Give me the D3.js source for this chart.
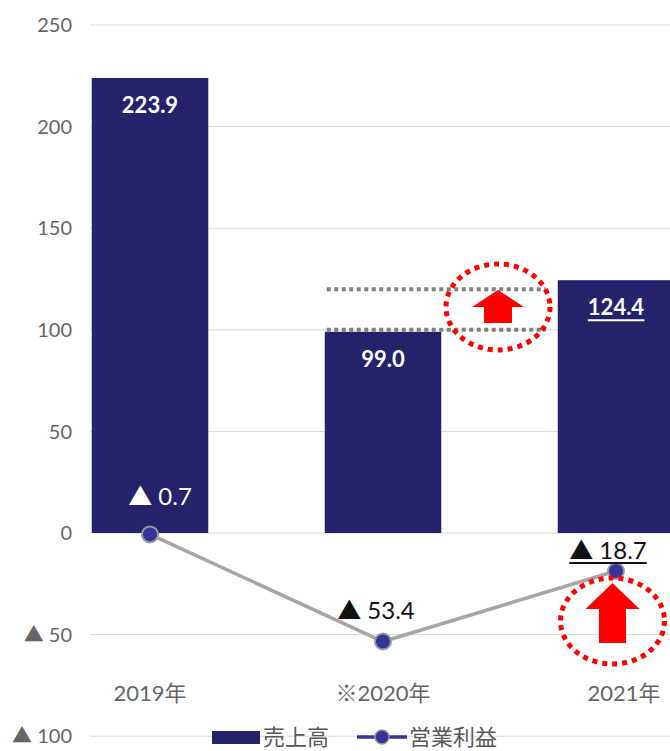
<!DOCTYPE html>
<html>
<head>
<meta charset="utf-8">
<script src="https://cdn.jsdelivr.net/npm/d3@7"></script>
<style>
  body { margin: 0; background: #fff; }
  svg { font-family: Lato, "Noto Sans CJK JP", sans-serif; }
</style>
</head>
<body>
<div id="chart"></div>
<script>
// Chart data
const years = ["2019年", "※2020年", "2021年"];
const sales = [223.9, 99.0, 124.4];
const profit = [-0.7, -53.4, -18.7];
const profitLabels = ["▲ 0.7", "▲ 53.4", "▲ 18.7"];
const yTicks = [250, 200, 150, 100, 50, 0, -50, -100];
const legendNames = ["売上高", "営業利益"];

const width = 670, height = 751;
const barColor = "#23226b";

const svg = d3.select("#chart")
    .append("svg")
    .attr("width", width)
    .attr("height", height);

const x = d3.scaleBand()
    .domain(years)
    .range([33.5, 732.5])
    .paddingInner(0.5)
    .paddingOuter(0.25);

const y = d3.scaleLinear()
    .domain([-100, 250])
    .range([736.2, 25]);

const tickLabel = d => d < 0 ? "▲ " + Math.abs(d) : d;

// Gridlines
svg.append("g")
    .selectAll("line")
    .data(yTicks)
    .enter().append("line")
    .attr("x1", 90)
    .attr("x2", width)
    .attr("y1", d => y(d))
    .attr("y2", d => y(d))
    .attr("stroke", "#d9d9d9")
    .attr("stroke-width", 1);

// Y tick labels
svg.append("g")
    .selectAll("text")
    .data(yTicks)
    .enter().append("text")
    .attr("x", 72)
    .attr("y", d => y(d))
    .attr("dy", "0.36em")
    .attr("text-anchor", "end")
    .style("font-size", "20px")
    .style("fill", "#666")
    .text(tickLabel);

// Bars
svg.append("g")
    .selectAll("rect")
    .data(sales)
    .enter().append("rect")
    .attr("x", (d, i) => x(years[i]))
    .attr("y", d => y(d))
    .attr("width", x.bandwidth())
    .attr("height", d => y(0) - y(d))
    .attr("fill", barColor);

// Bar value labels
const barLabels = svg.append("g")
    .selectAll("text")
    .data(sales)
    .enter().append("text")
    .attr("x", (d, i) => x(years[i]) + x.bandwidth() / 2)
    .attr("y", d => y(d) + 35)
    .attr("text-anchor", "middle")
    .style("font-size", "22px")
    .style("font-weight", "bold")
    .style("fill", "#fff")
    .text(d => d.toFixed(1));

// underline the 2021 value
barLabels.filter((d, i) => i === 2).each(function() {
    const b = this.getBBox();
    svg.append("line")
        .attr("x1", b.x).attr("x2", b.x + b.width)
        .attr("y1", b.y + b.height).attr("y2", b.y + b.height)
        .attr("stroke", "#fff").attr("stroke-width", 2);
});

// Profit line
const cx = (d, i) => x(years[i]) + x.bandwidth() / 2;
const line = d3.line()
    .x(cx)
    .y(d => y(d));

svg.append("path")
    .datum(profit)
    .attr("d", line)
    .attr("fill", "none")
    .attr("stroke", "#a6a6a6")
    .attr("stroke-width", 3.5);

svg.append("g")
    .selectAll("circle")
    .data(profit)
    .enter().append("circle")
    .attr("cx", cx)
    .attr("cy", d => y(d))
    .attr("r", 8)
    .attr("fill", "#333399")
    .attr("stroke", "#999")
    .attr("stroke-width", 2);

// Profit labels
const labelPos = [
    { dx: 10, dy: -29, color: "#fff" },
    { dx: -7, dy: -23, color: "#111" },
    { dx: -8, dy: -12, color: "#111" }
];
const profitText = svg.append("g")
    .selectAll("text")
    .data(profit)
    .enter().append("text")
    .attr("x", (d, i) => cx(d, i) + labelPos[i].dx)
    .attr("y", d => y(d))
    .attr("dy", (d, i) => labelPos[i].dy)
    .attr("text-anchor", "middle")
    .style("font-size", "24px")
    .style("fill", (d, i) => labelPos[i].color)
    .text((d, i) => profitLabels[i]);

profitText.filter((d, i) => i === 2).each(function() {
    const b = this.getBBox();
    svg.append("line")
        .attr("x1", b.x).attr("x2", b.x + b.width)
        .attr("y1", b.y + b.height - 1).attr("y2", b.y + b.height - 1)
        .attr("stroke", "#111").attr("stroke-width", 2);
});

// X axis labels
svg.append("g")
    .selectAll("text")
    .data(years)
    .enter().append("text")
    .attr("x", (d, i) => x(d) + x.bandwidth() / 2 + (i === 2 ? 8 : 0))
    .attr("y", 701)
    .attr("text-anchor", "middle")
    .style("font-size", "22px")
    .style("fill", "#666")
    .text(d => d);

// Annotations: dotted reference lines between 2020 and 2021
const annot = svg.append("g");
[100, 120].forEach(v => {
    annot.append("line")
        .attr("x1", x(years[1]) + 2)
        .attr("x2", x(years[2]) - 12)
        .attr("y1", y(v))
        .attr("y2", y(v))
        .attr("stroke", "#808080")
        .attr("stroke-width", 4)
        .attr("stroke-dasharray", "4 3.5");
});

// dotted red circle with an up arrow
function drawCallout(cxp, cyp, tip, base, bottom, hw, sw) {
    annot.append("ellipse")
        .attr("cx", cxp)
        .attr("cy", cyp)
        .attr("rx", 52)
        .attr("ry", 43)
        .attr("fill", "none")
        .attr("stroke", "#ff0000")
        .attr("stroke-width", 5)
        .attr("stroke-dasharray", "5 5");
    const pts = [
        [0, tip], [hw, base], [sw, base], [sw, bottom],
        [-sw, bottom], [-sw, base], [-hw, base]
    ].map(p => [cxp + p[0], p[1]]);
    annot.append("path")
        .attr("d", d3.line()(pts) + "Z")
        .attr("fill", "#ff0000");
}
drawCallout(498, 307, 290, 307, 323, 26, 14);
drawCallout(612.5, 621, 583, 609, 643, 27, 13.5);

// Legend
const legend = svg.append("g");
legend.append("rect")
    .attr("x", 212).attr("y", 731)
    .attr("width", 48).attr("height", 13)
    .attr("fill", barColor);
legend.append("text")
    .attr("x", 263).attr("y", 737).attr("dy", "0.36em")
    .style("font-size", "22px").style("fill", "#595959")
    .text(legendNames[0]);
legend.append("line")
    .attr("x1", 357).attr("x2", 407)
    .attr("y1", 737).attr("y2", 737)
    .attr("stroke", "#333399").attr("stroke-width", 3.5);
legend.append("circle")
    .attr("cx", 382).attr("cy", 737).attr("r", 7)
    .attr("fill", "#333399").attr("stroke", "#999").attr("stroke-width", 1.5);
legend.append("text")
    .attr("x", 409).attr("y", 737).attr("dy", "0.36em")
    .style("font-size", "22px").style("fill", "#595959")
    .text(legendNames[1]);
</script>
</body>
</html>
